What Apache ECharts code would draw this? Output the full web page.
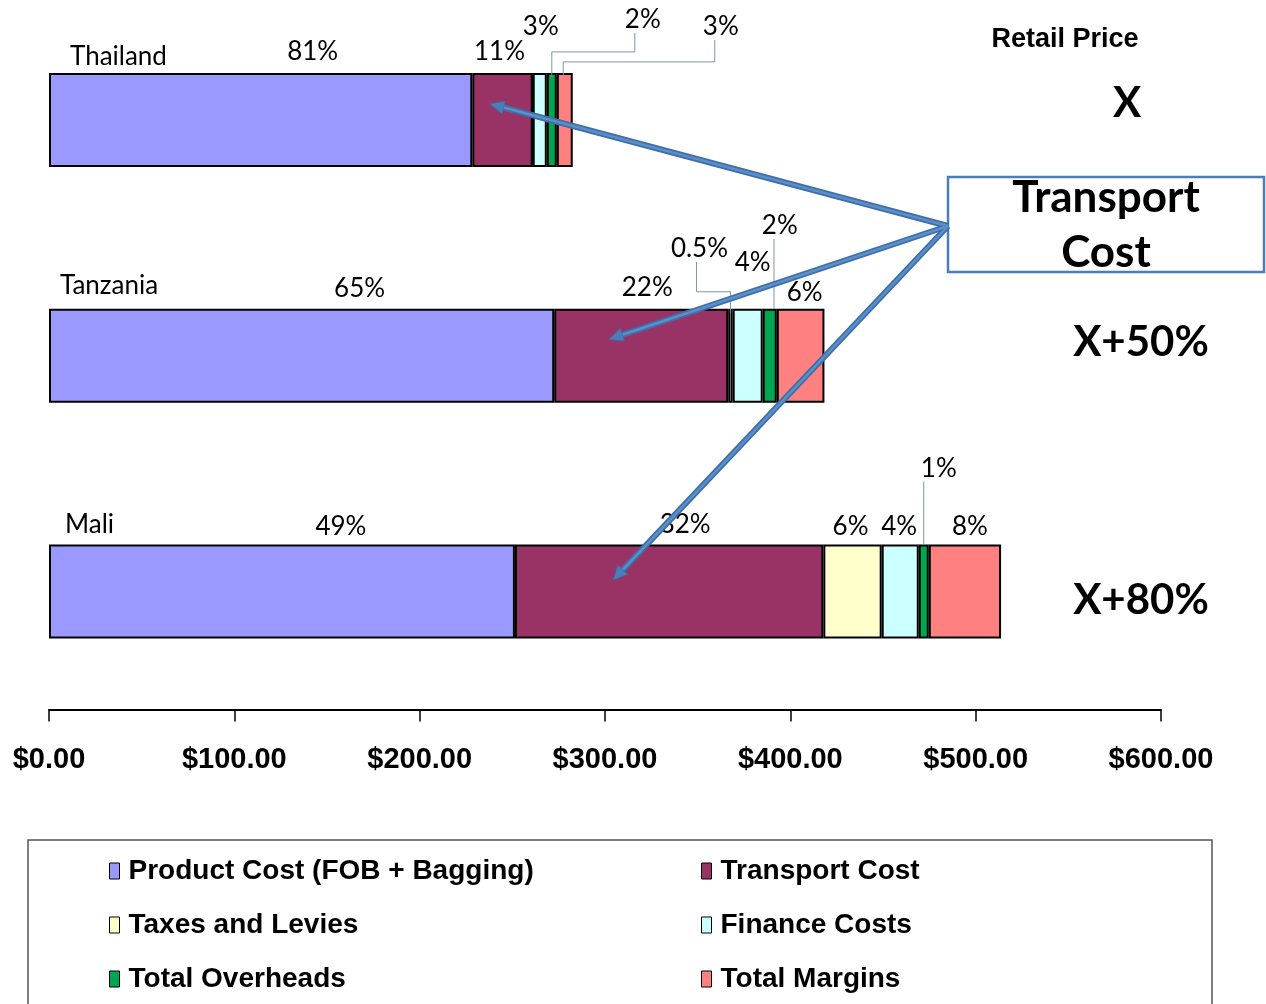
<!DOCTYPE html>
<html>
<head>
<meta charset="utf-8">
<script src="https://cdn.jsdelivr.net/npm/echarts@6/dist/echarts.min.js"></script>
<style>
html, body {margin: 0; padding: 0; background: #fff;}
#main {width: 1266px; height: 1004px;}
</style>
</head>
<body>
<div id="main"></div>
<script>
// data ($ per unit)
var countries = ['Thailand', 'Tanzania', 'Mali'];
var seriesNames = ['Product Cost (FOB + Bagging)', 'Transport Cost', 'Taxes and Levies',
                   'Finance Costs', 'Total Overheads', 'Total Margins'];
var productCost    = [228.4, 272.6, 251.4];
var transportCost  = [32.6, 93.9, 166.4];
var taxesLevies    = [0, 2.4, 31.5];
var financeCosts   = [7.6, 16.2, 20.0];
var totalOverheads = [5.4, 7.6, 5.4];
var totalMargins   = [8.6, 25.7, 39.0];
// share labels as printed
var productPct   = ['81%', '65%', '49%'];
var transportPct = ['11%', '22%', '32%'];
var taxesPct     = ['', '0.5%', '6%'];
var financePct   = ['3%', '4%', '4%'];
var overheadsPct = ['2%', '2%', '1%'];
var marginsPct   = ['3%', '6%', '8%'];
var priceLabels  = ['X', 'X+50%', 'X+80%'];
var tickLabels   = ['$0.00', '$100.00', '$200.00', '$300.00', '$400.00', '$500.00', '$600.00'];

var seriesData = [productCost, transportCost, taxesLevies, financeCosts, totalOverheads, totalMargins];
var seriesPct = [productPct, transportPct, taxesPct, financePct, overheadsPct, marginsPct];
var seriesColors = ['#9999ff', '#993366', '#ffffcc', '#ccffff', '#00a650', '#ff8080'];

// label nudges [dx, dy] from the top centre of each segment
var pctNudge = [
    [[52, -21], [58, -20], [59, -18]],
    [[-3, -21], [6, -21], [16, -20]],
    [[0, 0], [-31, -60], [-2, -18]],
    [[1, -46], [5, -46], [-1, -18]],
    [[91, -53], [10, -83], [15, -76]],
    [[156, -46], [4, -16], [5, -18]]
];
// country name placement: left x, lift above bar top
var nameLeft = [70, 60, 65];
var nameLift = [16, 23, 20];

var narrow = "'Liberation Sans', Arial, sans-serif";
var calib = "Lato, 'Open Sans', sans-serif";
var BAR_W = 94;

var chart = echarts.init(document.getElementById('main'));

var series = seriesNames.map(function(name, s) {
    return {
        name: name,
        type: 'bar',
        stack: 'cost',
        barWidth: BAR_W,
        animation: false,
        emphasis: {disabled: true},
        itemStyle: {color: seriesColors[s], borderColor: '#000', borderWidth: 2},
        label: {
            show: true, position: 'top', distance: 0, verticalAlign: 'middle',
            fontFamily: calib, fontSize: 26, color: '#000'
        },
        data: seriesData[s].map(function(v, c) {
            return {
                value: v,
                label: {show: seriesPct[s][c] !== '', formatter: seriesPct[s][c], offset: pctNudge[s][c]}
            };
        })
    };
});

var legendStyle = {
    orient: 'vertical',
    top: 849,
    itemWidth: 10,
    itemHeight: 16,
    itemGap: 20,
    icon: 'rect',
    selectedMode: false,
    itemStyle: {borderColor: '#000', borderWidth: 1},
    textStyle: {fontFamily: narrow, fontWeight: 'bold', fontSize: 28, lineHeight: 34, color: '#000', padding: [0, 0, 0, 4]}
};

chart.setOption({
    backgroundColor: '#fff',
    animation: false,
    grid: {left: 49, right: 105, top: 2, height: 707.5, outerBoundsMode: 'none', containLabel: false},
    xAxis: {
        type: 'value', min: 0, max: 600, interval: 100,
        axisLine: {show: true, lineStyle: {color: '#000', width: 2}},
        axisTick: {show: true, length: 12, lineStyle: {color: '#000', width: 1.5}},
        splitLine: {show: false},
        axisLabel: {
            margin: 36, fontFamily: narrow, fontWeight: 'bold', fontSize: 29, color: '#000',
            formatter: function(v, i) { return tickLabels[i]; }
        }
    },
    yAxis: {
        type: 'category',
        inverse: true,
        data: countries,
        axisLine: {show: false},
        axisTick: {show: false},
        axisLabel: {show: false}
    },
    legend: [
        Object.assign({left: 104, data: [seriesNames[0], seriesNames[2], seriesNames[4]]}, legendStyle),
        Object.assign({left: 696, data: [seriesNames[1], seriesNames[3], seriesNames[5]]}, legendStyle)
    ],
    series: series
});

// helpers for annotation geometry
function xPx(v) { return chart.convertToPixel({xAxisIndex: 0}, v); }
function yPx(c) { return chart.convertToPixel({yAxisIndex: 0}, countries[c]); }
var band = yPx(1) - yPx(0);
function segment(s, c) {
    var start = 0;
    for (var k = 0; k < s; k++) start += seriesData[k][c];
    return {x0: xPx(start), x1: xPx(start + seriesData[s][c]), top: yPx(c) - BAR_W / 2};
}

var graphics = [];

// legend frame
graphics.push({
    type: 'rect', z: 0, silent: true,
    shape: {x: 28, y: 840, width: 1184, height: 180},
    style: {fill: 'none', stroke: '#555', lineWidth: 1.5}
});

// country names above each bar
countries.forEach(function(n, c) {
    graphics.push({
        type: 'text', z: 40, silent: true,
        style: {x: nameLeft[c], y: yPx(c) - BAR_W / 2 - nameLift[c], text: n, align: 'left',
                verticalAlign: 'middle', font: '26px ' + calib, fill: '#000'}
    });
});

// leader lines for the small shares
var leaders = [
    {s: 4, c: 0, f: 0.5, lx: -8, elbow: -21},
    {s: 5, c: 0, f: 0.4, lx: -6, elbow: -11},
    {s: 2, c: 1, f: 0.5, lx: -3, elbow: -17},
    {s: 4, c: 1, f: 0.8},
    {s: 4, c: 2, f: 0.5}
];
leaders.forEach(function(l) {
    var seg = segment(l.s, l.c);
    var segX = seg.x0 + (seg.x1 - seg.x0) * l.f;
    var nud = pctNudge[l.s][l.c];
    var labX = (seg.x0 + seg.x1) / 2 + nud[0] + (l.lx || 0);
    var labBottom = seg.top + nud[1] + 13;
    var pts;
    if (l.elbow === undefined) {
        pts = [[segX, labBottom], [segX, seg.top]];
    } else {
        var ey = seg.top + l.elbow;
        pts = [[labX, labBottom], [labX, ey], [segX, ey], [segX, seg.top + 4]];
    }
    graphics.push({
        type: 'polyline', z: 50, silent: true,
        shape: {points: pts},
        style: {stroke: '#7d97a6', lineWidth: 1, fill: 'none'}
    });
});

// arrows from the "Transport Cost" box into the transport segments
var boxEdge = [948, 226];
var arrowTips = [
    {v: 238, c: 0, fy: -0.068},
    {v: 302.2, c: 1, fy: -0.07},
    {v: 304.4, c: 2, fy: -0.049}
];
arrowTips.forEach(function(t) {
    var tx = xPx(t.v), ty = yPx(t.c) + t.fy * band;
    var dx = boxEdge[0] - tx, dy = boxEdge[1] - ty;
    var len = Math.sqrt(dx * dx + dy * dy);
    var ux = dx / len, uy = dy / len;
    var head = 14, wing = 6.5;
    var bx = tx + ux * head, by = ty + uy * head;
    graphics.push({
        type: 'line', z: 60, silent: true,
        shape: {x1: boxEdge[0], y1: boxEdge[1], x2: bx, y2: by},
        style: {stroke: '#3f6fa6', lineWidth: 6}
    });
    graphics.push({
        type: 'line', z: 61, silent: true,
        shape: {x1: boxEdge[0], y1: boxEdge[1], x2: bx, y2: by},
        style: {stroke: '#5a8fcc', lineWidth: 2.5}
    });
    graphics.push({
        type: 'polygon', z: 62, silent: true,
        shape: {points: [[tx, ty], [bx - uy * wing, by + ux * wing], [bx + uy * wing, by - ux * wing]]},
        style: {fill: '#4a7ebb', stroke: '#3f6fa6', lineWidth: 1}
    });
});

// Transport Cost callout
graphics.push({
    type: 'group', z: 70,
    children: [
        {
            type: 'rect', silent: true,
            shape: {x: 948, y: 177, width: 316, height: 95},
            style: {fill: '#fff', stroke: '#4a7ebb', lineWidth: 2.5}
        },
        {
            type: 'text', silent: true,
            style: {
                x: 1106, y: 225, text: 'Transport\nCost', align: 'center', verticalAlign: 'middle',
                font: 'bold 44px ' + calib, lineHeight: 55, fill: '#000'
            }
        }
    ]
});

// retail price column
graphics.push({
    type: 'text', z: 70, silent: true,
    style: {x: 1065, y: 40, text: 'Retail Price', align: 'center', verticalAlign: 'middle',
            font: 'bold 27px ' + narrow, fill: '#000'}
});
var priceY = [103, 342, 600];
var priceX = [1127, 1141, 1141];
priceLabels.forEach(function(p, i) {
    graphics.push({
        type: 'text', z: 70, silent: true,
        style: {x: priceX[i], y: priceY[i], text: p, align: 'center', verticalAlign: 'middle',
                font: 'bold 42px ' + calib, fill: '#000'}
    });
});

chart.setOption({graphic: graphics});
</script>
</body>
</html>
